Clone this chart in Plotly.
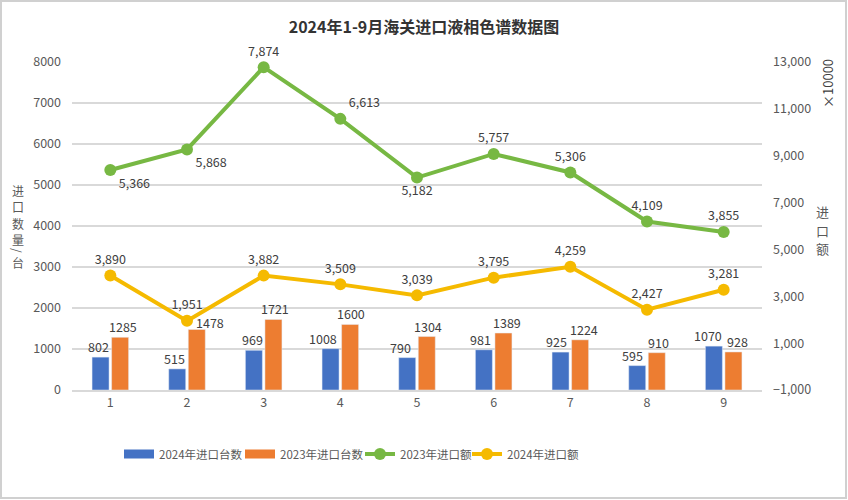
import plotly.graph_objects as go

months = ["1", "2", "3", "4", "5", "6", "7", "8", "9"]
units_2024 = [802, 515, 969, 1008, 790, 981, 925, 595, 1070]
units_2023 = [1285, 1478, 1721, 1600, 1304, 1389, 1224, 910, 928]
amount_2023 = [5366, 5868, 7874, 6613, 5182, 5757, 5306, 4109, 3855]
amount_2024 = [3890, 1951, 3882, 3509, 3039, 3795, 4259, 2427, 3281]

title = "2024年1-9月海关进口液相色谱数据图"
names = ["2024年进口台数", "2023年进口台数", "2023年进口额", "2024年进口额"]
left_title_chars = ["进", "口", "数", "量", "/", "台"]
right_title_chars = ["进", "口", "额"]
unit_label = "×10000"

FONT = "Noto Sans CJK SC, Noto Sans, sans-serif"
LBL = dict(family=FONT, size=12.5, color="#404040")
BLUE, ORANGE, GREEN, YELLOW = "#4472C4", "#ED7D31", "#77B843", "#F5BA00"

# plot area in pixels
PL, PR, PT, PB = 72, 762, 62, 390
W, H = 848, 500
PW, PH = PR - PL, PB - PT


def px(xp):
    return (xp - PL) / PW


def py(yp):
    return (PB - yp) / PH


# label placement styles
green_pos = ["bottom right", "bottom right", "top center", "top right", "bottom center",
             "top center", "top center", "top center", "top center"]
BAR_OFFSET = 11  # px from category centre to each bar centre
blue_nudge = [-1, -2, 0, -6, -6, -2, -3, -4, -4.5]
orange_nudge = [1.5, 12, 0, 0, 0, 2, 3, 0, 3]
orange_ynudge = [0, -4, 0, 0, 0, 0, 0, 0, 0]
legend_widths = [76, 75, 62, None]

fig = go.Figure()
fig.add_trace(go.Bar(x=months, y=units_2024, name=names[0], marker_color=BLUE, showlegend=False))
fig.add_trace(go.Bar(x=months, y=units_2023, name=names[1], marker_color=ORANGE, showlegend=False))
fig.add_trace(go.Scatter(x=months, y=amount_2023, name=names[2], mode="lines+markers+text",
                         line=dict(color=GREEN, width=4), marker=dict(size=12, color=GREEN),
                         texttemplate="%{y:,}", textposition=green_pos, textfont=LBL,
                         cliponaxis=False, legendrank=3, legendwidth=legend_widths[2]))
fig.add_trace(go.Scatter(x=months, y=amount_2024, name=names[3], mode="lines+markers+text",
                         line=dict(color=YELLOW, width=4), marker=dict(size=12, color=YELLOW),
                         texttemplate="%{y:,}", textposition="top center", textfont=LBL,
                         yaxis="y2", cliponaxis=False, legendrank=4))
# legend swatches for the bar series (wide rectangles)
fig.add_trace(go.Scatter(x=[None], y=[None], name=names[0], mode="lines",
                         line=dict(color=BLUE, width=9), legendrank=1,
                         legendwidth=legend_widths[0]))
fig.add_trace(go.Scatter(x=[None], y=[None], name=names[1], mode="lines",
                         line=dict(color=ORANGE, width=9), legendrank=2,
                         legendwidth=legend_widths[1]))

# bar value labels (x given as category index)
for i, (v, n) in enumerate(zip(units_2024, blue_nudge)):
    fig.add_annotation(x=i, y=v, xref="x", yref="y", text=str(v), showarrow=False,
                       xanchor="center", yanchor="bottom", xshift=-BAR_OFFSET + n, yshift=0,
                       borderpad=0, font=LBL)
for i, (v, n, yn) in enumerate(zip(units_2023, orange_nudge, orange_ynudge)):
    fig.add_annotation(x=i, y=v, xref="x", yref="y", text=str(v), showarrow=False,
                       xanchor="center", yanchor="bottom", xshift=BAR_OFFSET + n, yshift=yn,
                       borderpad=0, font=LBL)

fig.update_layout(
    width=W, height=H,
    margin=dict(l=PL, r=W - PR, t=PT, b=H - PB, autoexpand=False),
    paper_bgcolor="white", plot_bgcolor="white",
    font=dict(family=FONT, size=12, color="#595959"),
    title=dict(text="<b>" + title + "</b>", x=0.5, xanchor="center", y=1 - 27 / H, yanchor="middle",
               font=dict(family=FONT, size=16, color="#333333")),
    barmode="group", bargap=0.49, bargroupgap=0.13,
    xaxis=dict(type="category", range=[-0.5, len(months) - 0.5], showgrid=False, showline=True,
               linecolor="#d9d9d9", linewidth=2, ticks="",
               tickfont=dict(size=12.5, color="#595959"), fixedrange=True),
    yaxis=dict(range=[0, 8000], dtick=1000, showgrid=True, gridcolor="#d9d9d9", gridwidth=1.5,
               zeroline=False, ticks="", tickfont=dict(size=12.5, color="#595959"),
               ticklabelstandoff=10, fixedrange=True),
    yaxis2=dict(range=[-1000, 13000], tick0=-1000, dtick=2000, overlaying="y", side="right",
                showgrid=False, zeroline=False, tickformat=",", ticks="",
                tickfont=dict(size=12.5, color="#595959"), ticklabelstandoff=10, fixedrange=True),
    legend=dict(orientation="h", x=px(119), xanchor="left", y=py(454), yanchor="middle",
                font=dict(family=FONT, size=11.5, color="#595959"), itemwidth=30,
                traceorder="normal", tracegroupgap=0),
    showlegend=True,
)

left_y = [190, 206.5, 223, 239.5, 251, 262.5]
for ch, yy in zip(left_title_chars, left_y):
    fig.add_annotation(text=ch, xref="paper", yref="paper", x=px(18), y=py(yy),
                       xanchor="center", yanchor="middle", showarrow=False, borderpad=0,
                       textangle=90 if ch == "/" else 0,
                       font=dict(family=FONT, size=12, color="#595959"))
right_y = [211.5, 230, 248.5]
for ch, yy in zip(right_title_chars, right_y):
    fig.add_annotation(text=ch, xref="paper", yref="paper", x=px(822), y=py(yy),
                       xanchor="center", yanchor="middle", showarrow=False, borderpad=0,
                       font=dict(family=FONT, size=13, color="#595959"))
fig.add_annotation(text=unit_label, xref="paper", yref="paper", textangle=-90,
                   x=px(828), y=py(83), xanchor="center", yanchor="middle",
                   showarrow=False, font=dict(family=FONT, size=13, color="#404040"))

fig.add_shape(type="rect", xref="paper", yref="paper",
              x0=px(1), x1=px(846), y0=py(498), y1=py(1),
              line=dict(color="#d0d0d0", width=2))

fig.write_html("out.html", config={"displayModeBar": False},
               post_script="document.body.style.margin='0';")
